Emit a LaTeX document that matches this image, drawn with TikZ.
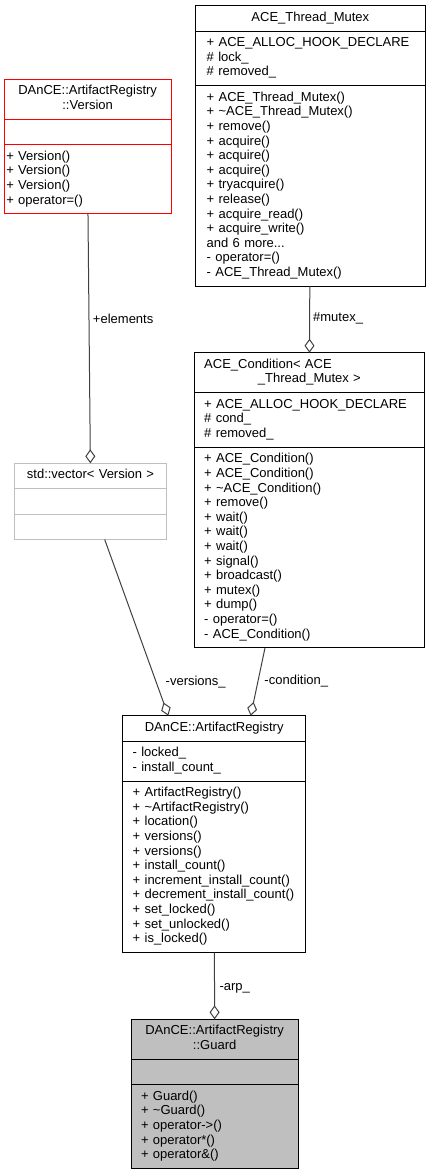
\documentclass[tikz,border=0pt]{standalone}
\usepackage{fontspec}
\setmainfont{Liberation Sans}
\usepackage{xcolor}
\usepackage{tikz}
\usetikzlibrary{arrows.meta,positioning}
\definecolor{edgegray}{HTML}{404040}
\definecolor{boxgray}{HTML}{BFBFBF}
\setlength{\parindent}{0pt}
\hyphenpenalty=10000
\exhyphenpenalty=10000

\begin{document}
\begin{tikzpicture}[x=1pt, y=-1pt,
    part/.style={draw, line width=1pt, outer sep=0pt, inner ysep=5.4pt, inner xsep=11pt, text width=#1,
        font=\fontsize{13}{14.6}\selectfont, execute at begin node=\strut, execute at end node=\strut},
    head/.style={part=#1, align=center},
    memb/.style={part=#1, align=left},
    aggr/.style={draw=edgegray, line width=1pt, -{Diamond[open, length=14pt, width=10pt]}},
    lbl/.style={font=\fontsize{13}{14.6}\selectfont, inner sep=0pt},
]
    \useasboundingbox (0,0) rectangle (431,1176);

    % Thread mutex
    \node[head=207.3pt, anchor=north west] (mutex) at (195.7,5.7) {ACE\_Thread\_Mutex};
    \node[memb=207.3pt, below=0pt of mutex] (mutexA) {+ ACE\_ALLOC\_HOOK\_DECLARE\\\# lock\_\\\# removed\_};
    \node[memb=207.3pt, below=0pt of mutexA] (mutexM) {+ ACE\_Thread\_Mutex()\\+ \textasciitilde ACE\_Thread\_Mutex()\\+ remove()\\+ acquire()\\+ acquire()\\+ acquire()\\+ tryacquire()\\+ release()\\+ acquire\_read()\\+ acquire\_write()\\and 6 more...\\- operator=()\\- ACE\_Thread\_Mutex()};

    % Version
    \node[head=162.7pt, inner xsep=2pt, draw=red, anchor=north west] (ver) at (4.3,79.3) {DAnCE::ArtifactRegistry\\::Version};
    \node[memb=162.7pt, inner xsep=2pt, draw=red, below=0pt of ver] (verA) {};
    \node[memb=162.7pt, inner xsep=2pt, draw=red, below=0pt of verA] (verM) {+ Version()\\+ Version()\\+ Version()\\+ operator=()};

    % Condition
    \node[head=210.3pt, inner xsep=9.5pt, anchor=north west] (cond) at (194.7,352.7) {\makebox[\hsize][l]{ACE\_Condition< ACE}\\\_Thread\_Mutex >};
    \node[memb=210.3pt, inner xsep=9.5pt, below=0pt of cond] (condA) {+ ACE\_ALLOC\_HOOK\_DECLARE\\\# cond\_\\\# removed\_};
    \node[memb=210.3pt, inner xsep=9.5pt, below=0pt of condA] (condM) {+ ACE\_Condition()\\+ ACE\_Condition()\\+ \textasciitilde ACE\_Condition()\\+ remove()\\+ wait()\\+ wait()\\+ wait()\\+ signal()\\+ broadcast()\\+ mutex()\\+ dump()\\- operator=()\\- ACE\_Condition()};

    % Vector
    \node[head=129.6pt, draw=boxgray, anchor=north west] (vec) at (14.7,463.3) {std::vector< Version >};
    \node[memb=129.6pt, draw=boxgray, below=0pt of vec] (vecA) {};
    \node[memb=129.6pt, draw=boxgray, below=0pt of vecA] (vecB) {};

    % Artifact registry
    \node[head=163pt, inner xsep=10pt, anchor=north west] (ar) at (122.7,715.7) {DAnCE::ArtifactRegistry};
    \node[memb=163pt, inner xsep=10pt, below=0pt of ar] (arA) {- locked\_\\- install\_count\_};
    \node[memb=163pt, inner xsep=10pt, below=0pt of arA] (arM) {+ ArtifactRegistry()\\+ \textasciitilde ArtifactRegistry()\\+ location()\\+ versions()\\+ versions()\\+ install\_count()\\+ increment\_install\_count()\\+ decrement\_install\_count()\\+ set\_locked()\\+ set\_unlocked()\\+ is\_locked()};

    % Guard
    \node[head=147.3pt, inner xsep=10pt, fill=boxgray, anchor=north west] (guard) at (131,1019.3) {DAnCE::ArtifactRegistry\\::Guard};
    \node[memb=147.3pt, inner xsep=10pt, fill=boxgray, below=0pt of guard] (guardA) {};
    \node[memb=147.3pt, inner xsep=10pt, fill=boxgray, below=0pt of guardA] (guardM) {+ Guard()\\+ \textasciitilde Guard()\\+ operator->()\\+ operator*()\\+ operator\&()};

    % Aggregations
    \draw[aggr] (verM) -- (vec) node[lbl, pos=0.42, right=3.5pt] {+elements};
    \draw[aggr] (mutexM) -- (cond) node[lbl, pos=0.48, right=3pt] {\#mutex\_};
    \draw[aggr] ([xshift=90pt]vecB.south west) -- ([xshift=45.6pt]ar.north west) node[lbl, pos=0.81, right=9pt] {-versions\_};
    \draw[aggr] ([xshift=70.3pt]condM.south west) -- ([xshift=128pt]ar.north west) node[lbl, pos=0.49, right=6pt] {-condition\_};
    \draw[aggr] (arM) -- (guard) node[lbl, pos=0.53, right=4.5pt] {-arp\_};
\end{tikzpicture}
\end{document}
